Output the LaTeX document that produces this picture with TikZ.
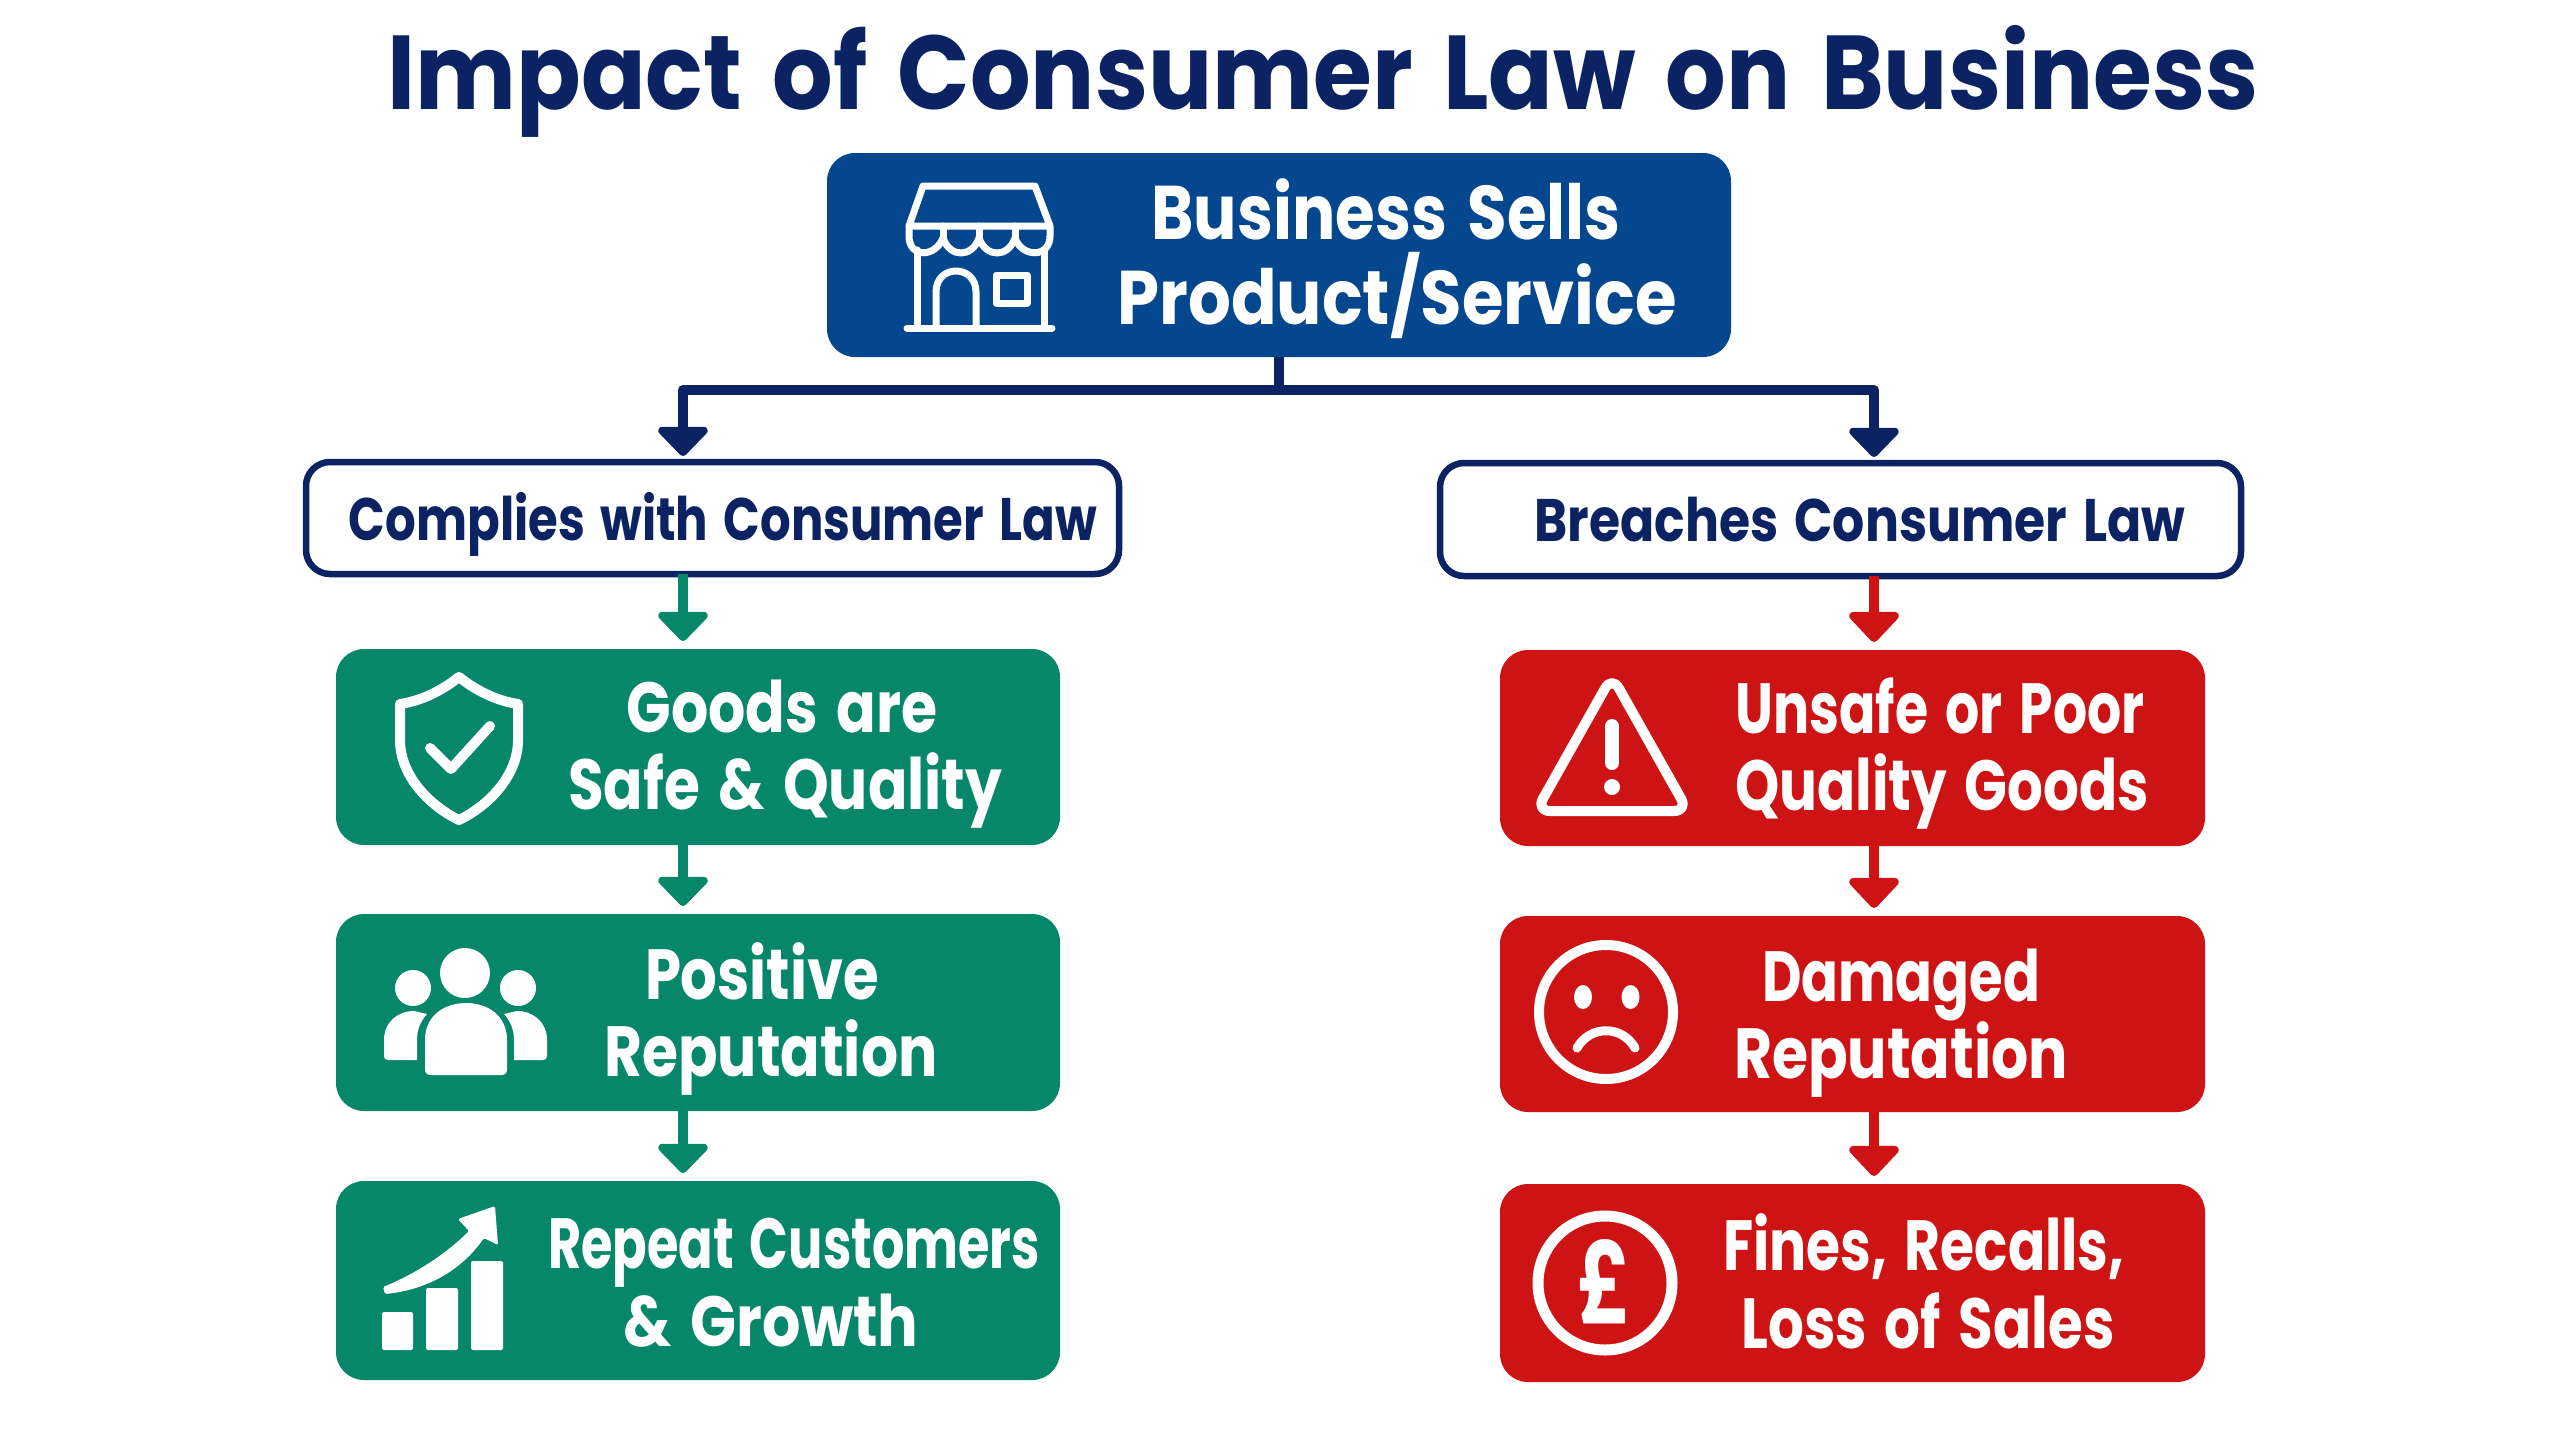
\documentclass[tikz,border=0pt]{standalone}
\usepackage{fontspec}
\usepackage{graphicx}
\setmainfont[WordSpace=1.5]{Poppins}
\usetikzlibrary{arrows.meta}
\definecolor{navyc}{HTML}{0B2362}
\definecolor{bluec}{HTML}{05478F}
\definecolor{greenc}{HTML}{06876A}
\definecolor{redc}{HTML}{CE1315}
\tikzset{
  x=1pt,y=-1pt,
  corebox/.style={rounded corners=28pt,inner sep=0pt,outer sep=0pt,anchor=north west},
  bluebox/.style={corebox,fill=bluec},
  greenbox/.style={corebox,fill=greenc},
  redbox/.style={corebox,fill=redc},
  outlinebox/.style={corebox,rounded corners=24pt,draw=navyc,line width=6.5pt,fill=white},
  linelabel/.style={anchor=base,inner sep=0pt,outer sep=0pt,text=white,font=\bfseries},
  navyarrow/.style={draw=navyc,line width=10pt,line join=round,-{Triangle[width=58pt,length=31pt,round]},shorten >=6pt},
  greenarrow/.style={draw=greenc,line width=10pt,-{Triangle[width=58pt,length=31pt,round]},shorten >=8pt},
  redarrow/.style={draw=redc,line width=10pt,-{Triangle[width=58pt,length=32pt,round]},shorten >=8pt},
  iconline/.style={draw=white,line join=round,line cap=round,fill=none},
  iconfill/.style={fill=white,draw=none}
}
% name, cx, baseline, width, font size, text
\newcommand{\linetxt}[7][white]{\node[linelabel,text=#1,yshift=-1.5pt] (#2) at (#3,#4) {\fontsize{#6}{#6}\selectfont\resizebox{\dimexpr#5pt+3pt\relax}{\height}{#7}};}
\begin{document}
\begin{tikzpicture}
\useasboundingbox (0,0) rectangle (2560,1440);
\fill[white] (0,0) rectangle (2560,1440);

% title
\linetxt[navyc]{title}{1323}{108}{1868}{105}{Impact of Consumer Law on Business}

% boxes
\node[bluebox,minimum width=904pt,minimum height=204pt] (top) at (827,153) {};
\node[outlinebox,minimum width=813pt,minimum height=112pt] (comp) at (306,462) {};
\node[outlinebox,minimum width=801pt,minimum height=113pt] (brch) at (1440,463) {};
\node[greenbox,minimum width=724pt,minimum height=196pt] (g1) at (336,649) {};
\node[greenbox,minimum width=724pt,minimum height=197pt] (g2) at (336,914) {};
\node[greenbox,minimum width=724pt,minimum height=199pt] (g3) at (336,1181) {};
\node[redbox,minimum width=705pt,minimum height=196pt] (r1) at (1500,650) {};
\node[redbox,minimum width=705pt,minimum height=196pt] (r2) at (1500,916) {};
\node[redbox,minimum width=705pt,minimum height=198pt] (r3) at (1500,1184) {};

% connectors
\coordinate (sx) at (1279,390);
\coordinate (lx) at (683,390);
\coordinate (rx) at (1874,390);
\draw[draw=navyc,line width=10pt] (top.south -| sx) -- (sx);
\draw[navyarrow] (sx) -- (lx) -- (comp.north -| lx);
\draw[navyarrow] (sx) -- (rx) -- (brch.north -| rx);
\draw[greenarrow] (comp.south -| lx) -- (g1.north -| lx);
\draw[greenarrow] (g1.south -| lx) -- (g2.north -| lx);
\draw[greenarrow] (g2.south -| lx) -- (g3.north -| lx);
\draw[redarrow] (brch.south -| rx) -- (r1.north -| rx);
\draw[redarrow] (r1.south -| rx) -- (r2.north -| rx);
\draw[redarrow] (r2.south -| rx) -- (r3.north -| rx);

% texts
\linetxt{ta}{1386}{238}{466}{76}{Business Sells}
\linetxt{tb}{1397}{323}{556}{76}{Product/Service}
\linetxt[navyc]{ca}{723}{539}{745}{60}{Complies with Consumer Law}
\linetxt[navyc]{ba}{1860}{540}{648}{60}{Breaches Consumer Law}
\linetxt{g1a}{782}{731}{308}{71}{Goods are}
\linetxt{g1b}{785}{808}{431}{71}{Safe \& Quality}
\linetxt{g2a}{762}{998}{231}{71}{Positive}
\linetxt{g2b}{771}{1075}{330}{71}{Reputation}
\linetxt{g3a}{794}{1267}{489}{71}{Repeat Customers}
\linetxt{g3b}{771}{1345}{292}{71}{\& Growth}
\linetxt{r1a}{1940}{732}{406}{71}{Unsafe or Poor}
\linetxt{r1b}{1942}{809}{411}{71}{Quality Goods}
\linetxt{r2a}{1901}{1000}{275}{71}{Damaged}
\linetxt{r2b}{1901}{1077}{331}{71}{Reputation}
\linetxt{r3a}{1924}{1269}{398}{71}{Fines, Recalls,}
\linetxt{r3b}{1928}{1347}{370}{71}{Loss of Sales}

% store icon
\begin{scope}[iconline,line width=7pt]
\draw (923,186) -- (1035,186) -- (1050,226) -- (909,226) -- cycle;
\draw (909,226) -- (909,236) .. controls (909,258) and (935,258) .. (943,238)
      .. controls (950,258) and (972,258) .. (979,238)
      .. controls (986,258) and (1008,258) .. (1015,238)
      .. controls (1022,258) and (1050,258) .. (1050,236) -- (1050,226);
\draw (943,226) -- (943,238) (979,226) -- (979,238) (1015,226) -- (1015,238);
\draw (917,250) -- (917,327) (1044,250) -- (1044,327);
\draw (907,328) -- (1052,328);
\draw (936,327) -- (936,292) .. controls (936,264) and (976,264) .. (976,292) -- (976,327);
\draw (996,275) rectangle (1027,303);
\end{scope}

% shield icon
\draw[iconline,line width=10pt] (459,677) .. controls (440,692) and (420,701) .. (400,704)
  -- (400,740) .. controls (400,776) and (430,806) .. (459,820)
  .. controls (488,806) and (518,776) .. (518,740) -- (518,704)
  .. controls (498,701) and (478,692) .. (459,677) -- cycle;
\draw[iconline,line width=10pt] (430,748) -- (451,769) -- (490,726);

% people icon
\fill[iconfill] (465,973) circle (25);
\fill[iconfill] (413,988) circle (18);
\fill[iconfill] (518,988) circle (18);
\fill[iconfill] (425,1069) -- (425,1040) .. controls (425,1015) and (445,1003) .. (466,1003)
  .. controls (487,1003) and (507,1015) .. (507,1040) -- (507,1069)
  .. controls (507,1073) and (505,1075) .. (501,1075) -- (431,1075)
  .. controls (427,1075) and (425,1073) .. (425,1069) -- cycle;
\fill[iconfill] (384,1056) -- (384,1040) .. controls (384,1022) and (398,1011) .. (414,1011)
  -- (427,1014) .. controls (420,1022) and (417,1030) .. (417,1040) -- (417,1060) -- (388,1060)
  .. controls (385,1060) and (384,1058) .. (384,1056) -- cycle;
\fill[iconfill] (547,1056) -- (547,1040) .. controls (547,1022) and (533,1011) .. (517,1011)
  -- (504,1014) .. controls (511,1022) and (514,1030) .. (514,1040) -- (514,1060) -- (543,1060)
  .. controls (546,1060) and (547,1058) .. (547,1056) -- cycle;

% chart icon
\fill[iconfill,rounded corners=2pt] (382,1312) rectangle (413,1350);
\fill[iconfill,rounded corners=2pt] (426,1288) rectangle (458,1350);
\fill[iconfill,rounded corners=2pt] (471,1261) rectangle (503,1350);
\fill[iconfill,rounded corners=1.5pt] (383,1287) .. controls (420,1272) and (450,1250) .. (469,1231)
  -- (458,1219) -- (495,1206) -- (498,1245) -- (484,1238)
  .. controls (460,1272) and (425,1290) .. (385,1294) -- cycle;

% warning icon
\draw[iconline,line width=10pt,rounded corners=14pt] (1612,676) -- (1688,811) -- (1536,811) -- cycle;
\draw[iconline,line width=14pt] (1612,726) -- (1612,763);
\fill[iconfill] (1612,787) circle (8);

% sad face icon
\draw[iconline,line width=10pt] (1606,1012) circle (67);
\fill[iconfill] (1583,997) ellipse (9 and 12);
\fill[iconfill] (1630.5,997) ellipse (9 and 12);
\draw[iconline,line width=9pt] (1577,1048) .. controls (1590,1025) and (1622,1025) .. (1635,1048);

% pound icon
\draw[iconline,line width=11pt] (1605,1283) circle (67);
\node[linelabel] (poundsign) at (1604,1323) {\fontsize{120}{120}\selectfont\resizebox{54pt}{84pt}{£}};
\end{tikzpicture}
\end{document}
